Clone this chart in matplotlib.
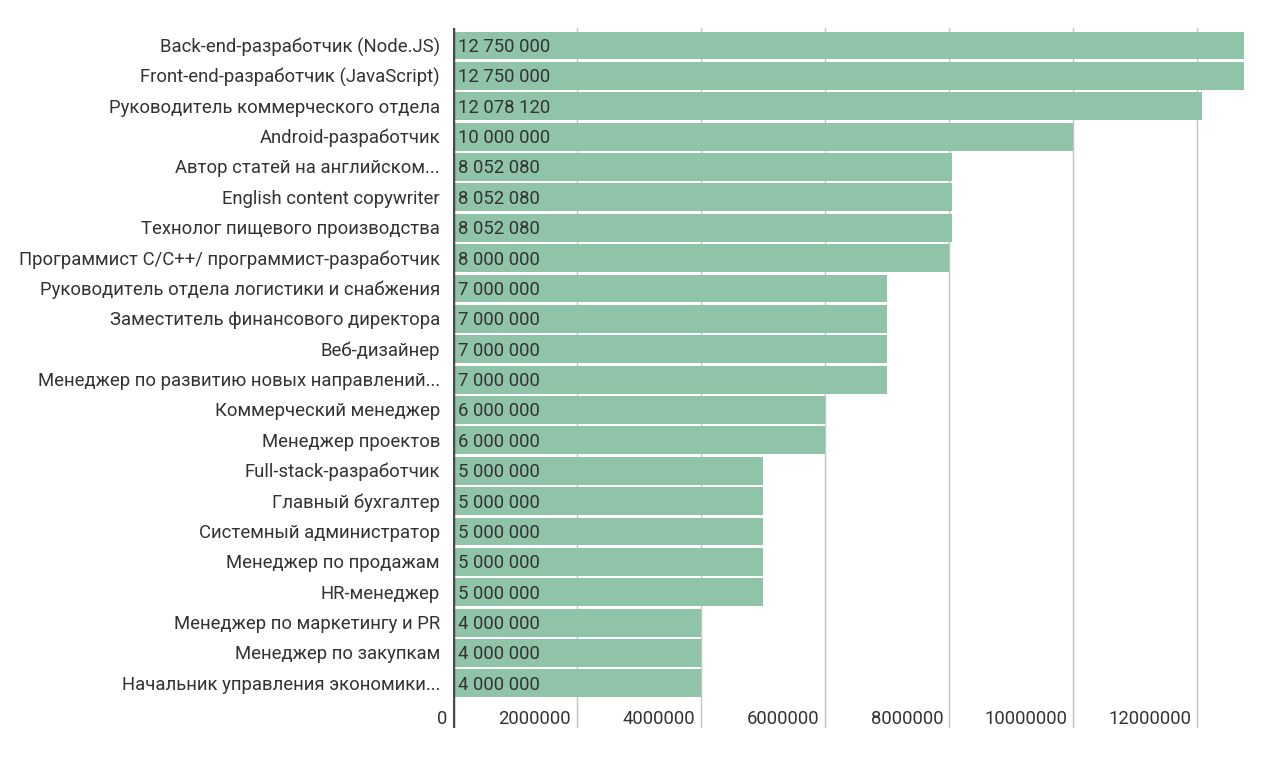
import matplotlib
matplotlib.use("Agg")
import matplotlib.pyplot as plt
from matplotlib.transforms import offset_copy

categories = [
    "Back-end-разработчик (Node.JS)",
    "Front-end-разработчик (JavaScript)",
    "Руководитель коммерческого отдела",
    "Android-разработчик",
    "Автор статей на английском...",
    "English content copywriter",
    "Технолог пищевого производства",
    "Программист C/C++/ программист-разработчик",
    "Руководитель отдела логистики и снабжения",
    "Заместитель финансового директора",
    "Веб-дизайнер",
    "Менеджер по развитию новых направлений...",
    "Коммерческий менеджер",
    "Менеджер проектов",
    "Full-stack-разработчик",
    "Главный бухгалтер",
    "Системный администратор",
    "Менеджер по продажам",
    "HR-менеджер",
    "Менеджер по маркетингу и PR",
    "Менеджер по закупкам",
    "Начальник управления экономики...",
]
values = [12750000, 12750000, 12078120, 10000000, 8052080, 8052080, 8052080,
          8000000, 7000000, 7000000, 7000000, 7000000, 6000000, 6000000,
          5000000, 5000000, 5000000, 5000000, 5000000, 4000000, 4000000, 4000000]
xticks = [0, 2000000, 4000000, 6000000, 8000000, 10000000, 12000000]

plt.rcParams['font.family'] = ['Roboto', 'DejaVu Sans']

fig = plt.figure(figsize=(12.8, 7.59), dpi=100)
ax = fig.add_axes([453/1280, 1-728/759, (1247-453)/1280, 700/759])

bar_color = "#8fc4a8"
text_color = "#333333"
fs = 13.3
y = list(range(len(categories)))
ax.barh(y, values, height=0.92, color=bar_color, zorder=2)

ax.set_xlim(0, 12.8e6)
ax.set_ylim(22.47, -0.576)

for t in xticks[1:]:
    ax.axvline(t, color="#c4c4c4", lw=1.0, zorder=1)
ax.axvline(0, color="#4a4a4a", lw=2.5, zorder=3)

for s in ax.spines.values():
    s.set_visible(False)
ax.set_xticks([])
ax.set_yticks([])

# category labels
trans_lab = offset_copy(ax.transData, fig=fig, x=-13, y=-1.5, units='dots')
for yi, c in zip(y, categories):
    ax.text(0, yi, c, ha='right', va='center', fontsize=fs, color=text_color,
            transform=trans_lab, clip_on=False)

# value labels
trans_val = offset_copy(ax.transData, fig=fig, x=5, y=-1.5, units='dots')
for yi, v in zip(y, values):
    s = f"{v:,}".replace(",", " ")
    ax.text(0, yi, s, ha='left', va='center', fontsize=fs, color=text_color,
            transform=trans_val, zorder=4)

# x tick labels inside plot area
trans_tick = offset_copy(ax.transData, fig=fig, x=-6, y=-1.5, units='dots')
for t in xticks:
    ax.text(t, 22.14, str(t), ha='right', va='center', fontsize=fs,
            color=text_color, transform=trans_tick, clip_on=False)

fig.savefig("out.png", dpi=100, facecolor="white")
